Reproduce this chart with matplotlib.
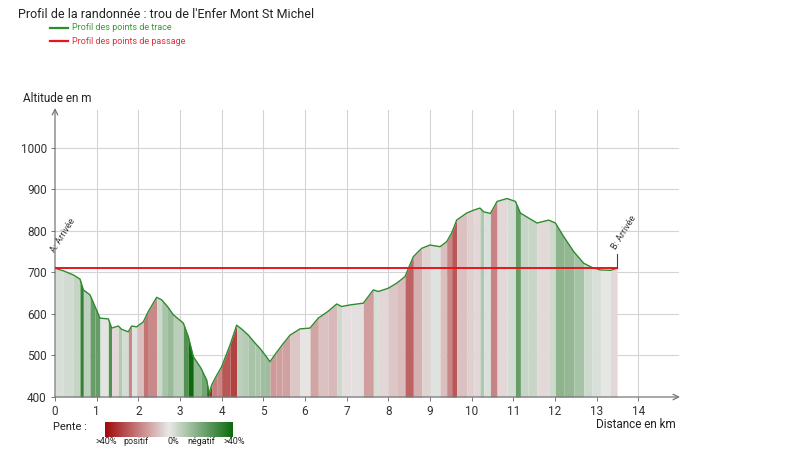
import numpy as np
import matplotlib
matplotlib.use('Agg')
import matplotlib.pyplot as plt
from matplotlib.colors import LinearSegmentedColormap, Normalize

plt.rcParams['font.family'] = ['Roboto', 'DejaVu Sans']

TITLE = "Profil de la randonnée : trou de l'Enfer Mont St Michel"
LEG_TRACE = 'Profil des points de trace'
LEG_PASSAGE = 'Profil des points de passage'

# distance (km) and altitude (m) read from the profile
dist = [0.0, 0.2, 0.44, 0.6, 0.68, 0.84, 0.96, 1.08, 1.28, 1.36, 1.52, 1.60, 1.76,
        1.84, 1.96, 2.12, 2.24, 2.44, 2.56, 2.70, 2.84, 3.08, 3.2, 3.32, 3.5, 3.64,
        3.70, 3.76, 3.88, 4.0, 4.2, 4.36, 4.5, 4.64, 4.8, 4.92, 5.05, 5.16, 5.3,
        5.45, 5.64, 5.88, 6.12, 6.32, 6.55, 6.76, 6.88, 7.1, 7.4, 7.64, 7.76, 8.0,
        8.2, 8.40, 8.60, 8.8, 9.0, 9.24, 9.40, 9.52, 9.64, 9.88, 10.05, 10.2, 10.29,
        10.45, 10.61, 10.85, 11.05, 11.17, 11.35, 11.57, 11.85, 12.01, 12.21, 12.45,
        12.69, 12.89, 13.09, 13.33, 13.49]
alt = [710, 704, 694, 684, 658, 646, 618, 590, 588, 566, 571, 563, 557, 571, 569,
       581, 606, 640, 634, 618, 598, 578, 545, 497, 470, 441, 408, 429, 452, 473,
       525, 573, 562, 549, 530, 517, 500, 485, 505, 525, 549, 564, 566, 590, 606,
       624, 618, 622, 626, 658, 654, 662, 674, 690, 738, 758, 766, 762, 774, 795,
       826, 843, 850, 855, 846, 842, 871, 878, 871, 843, 832, 819, 826, 819, 786,
       750, 722, 712, 706, 705, 710]

# waypoints (passage profile)
pass_dist = [0.0, 13.49]
pass_alt = [710, 710]

x_ticks = list(range(0, 15))
y_ticks = [400, 500, 600, 700, 800, 900, 1000]

slope_cmap = LinearSegmentedColormap.from_list(
    'pente', ['#a00a0a', '#e8e8e8', '#0c6a0c'])
norm = Normalize(vmin=-40, vmax=40)

fig = plt.figure(figsize=(7.99, 4.74), dpi=100)
ax = fig.add_axes([55 / 799, 77 / 474, 625 / 799, 289 / 474])
ax.set_xlim(0, 15)
ax.set_ylim(400, 1096)

# grid
for xv in x_ticks[1:]:
    ax.plot([xv, xv], [400, 1090], color='#d4d4d4', lw=0.8, zorder=0)
for yv in y_ticks[1:]:
    ax.plot([0, 14.95], [yv, yv], color='#d4d4d4', lw=0.8, zorder=0)

# slope-coloured fill
d = np.array(dist)
a = np.array(alt)
for i in range(len(d) - 1):
    slope = (a[i + 1] - a[i]) / (d[i + 1] - d[i]) / 10.0
    ax.fill_between(d[i:i + 2], a[i:i + 2], 400,
                    color=slope_cmap(norm(-slope)), lw=0, zorder=1)

ax.plot(d, a, color='#2e8b2e', lw=1.0, zorder=3)
ax.plot(pass_dist, pass_alt, color='#e8141e', lw=1.4, zorder=4)

# start / end markers
ax.plot([d[-1], d[-1]], [a[-1], a[-1] + 35], color='#444444', lw=0.8, zorder=4)
ax.text(0.05, 745, 'A: Arrivée', rotation=58, fontsize=6.5, color='#333333',
        ha='left', va='bottom', rotation_mode='anchor')
ax.text(d[-1] + 0.02, a[-1] + 42, 'B: Arrivée', rotation=58, fontsize=6.5,
        color='#333333', ha='left', va='bottom', rotation_mode='anchor')

# axes with arrows
for s in ax.spines.values():
    s.set_visible(False)
ax.annotate('', xy=(1.0, 0), xytext=(0, 0), xycoords='axes fraction',
            arrowprops=dict(arrowstyle='->', color='#777777', lw=0.9,
                            shrinkA=0, shrinkB=0))
ax.annotate('', xy=(0, 1.0), xytext=(0, 0), xycoords='axes fraction',
            arrowprops=dict(arrowstyle='->', color='#777777', lw=0.9,
                            shrinkA=0, shrinkB=0))

ax.set_xticks(x_ticks)
ax.set_yticks(y_ticks)
ax.tick_params(axis='both', length=3, width=0.7, color='#777777',
               labelsize=8.5, labelcolor='#333333', pad=3)

fig.text(23 / 799, 1 - 98 / 474, 'Altitude en m', fontsize=8.5, color='#222222',
         va='center', ha='left')
fig.text(676 / 799, 1 - 425 / 474, 'Distance en km', fontsize=8.5,
         color='#222222', va='center', ha='right')

# title and legend
fig.text(18 / 799, 1 - 15 / 474, TITLE, fontsize=9, color='#222222',
         va='center', ha='left')
fig.lines.append(plt.Line2D([50 / 799, 68 / 799], [1 - 28 / 474] * 2,
                            color='#2e8b2e', lw=1.6, transform=fig.transFigure))
fig.lines.append(plt.Line2D([50 / 799, 68 / 799], [1 - 41 / 474] * 2,
                            color='#e8141e', lw=1.6, transform=fig.transFigure))
fig.text(72 / 799, 1 - 28 / 474, LEG_TRACE, fontsize=6.5, color='#3a9a3a',
         va='center', ha='left')
fig.text(72 / 799, 1 - 41 / 474, LEG_PASSAGE, fontsize=6.5, color='#e0303a',
         va='center', ha='left')

# slope legend
fig.text(53 / 799, 1 - 427 / 474, 'Pente :', fontsize=8, color='#222222',
         va='center', ha='left')
cax = fig.add_axes([105 / 799, 1 - 437 / 474, 128 / 799, 15 / 474])
grad = np.linspace(40, -40, 256).reshape(1, -1)
cax.imshow(-grad, aspect='auto', cmap=slope_cmap, norm=norm)
cax.set_axis_off()
for xp, lab in [(95, '>40%'), (123, 'positif'), (167, '0%'), (187, 'négatif'),
                (223, '>40%')]:
    fig.text(xp / 799, 1 - 441 / 474, lab, fontsize=6.5, color='#222222',
             va='center', ha='left')

fig.savefig('out.png', dpi=100)
